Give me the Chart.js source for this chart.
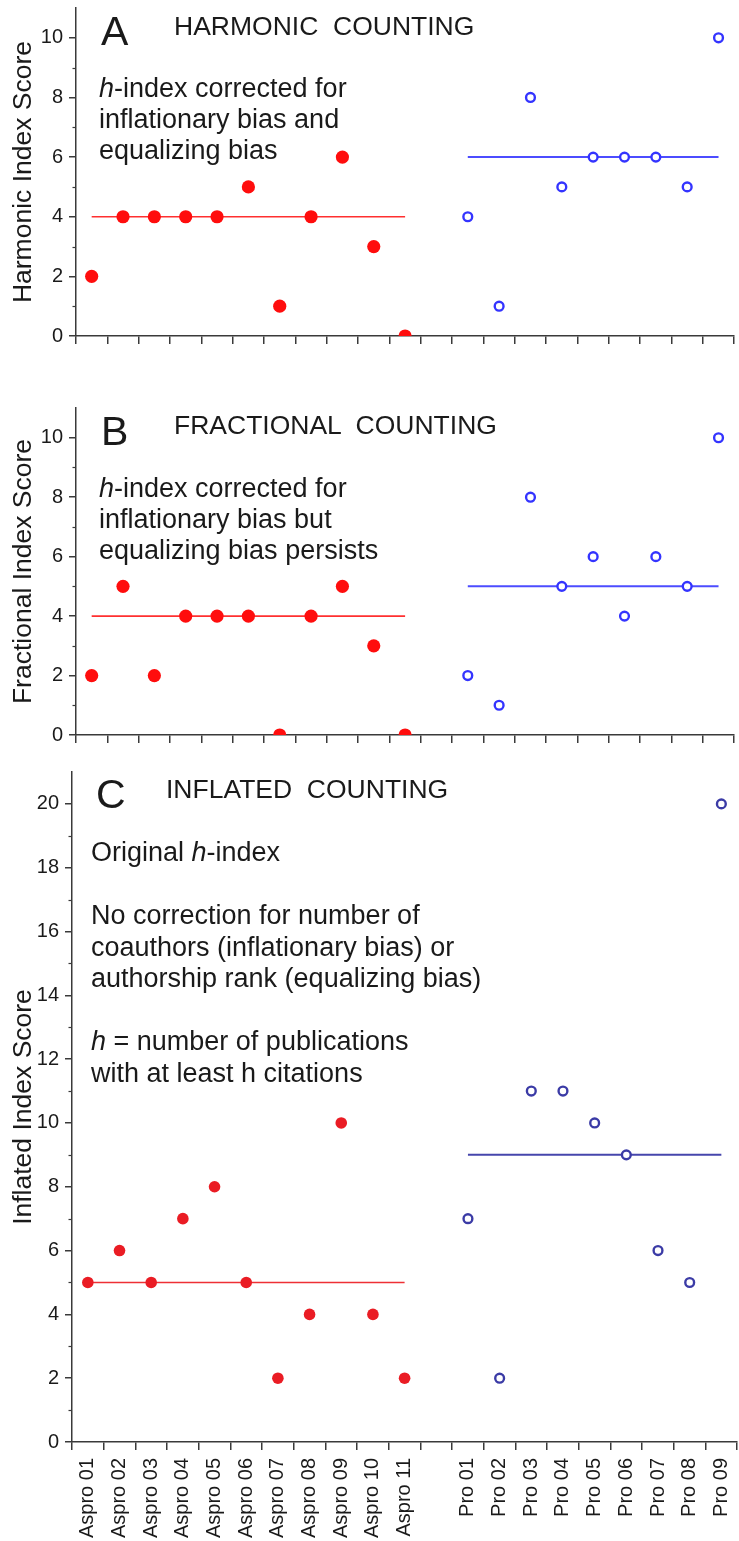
<!DOCTYPE html>
<html lang="en">
<head>
  <meta charset="UTF-8">
  <title>Harmonic, fractional and inflated counting</title>

  <!-- Chart.js for the three panels -->
  <script src="https://cdn.jsdelivr.net/npm/chart.js"></script>

  <style>
    html, body { margin: 0; padding: 0; background: #fff; }
    body {
      width: 739px; height: 1541px; overflow: hidden; position: relative;
      font-family: "Liberation Sans", Arial, sans-serif; color: #1a1a1a;
    }
    canvas { position: absolute; left: 0; }
    .txt { position: absolute; white-space: pre; pointer-events: none; }
    .letter { font-size: 41px; line-height: 48px; }
    .title { font-size: 26.5px; line-height: 31px; }
    .note { font-size: 27px; line-height: 31px; }
  </style>
</head>

<body>

  <!-- Panel A -->
  <canvas id="chartA" width="741" height="350" style="top:0px"></canvas>
  <div class="txt letter" style="left:101px; top:7px">A</div>
  <div class="txt title" style="left:174px; top:11px">HARMONIC  COUNTING</div>
  <div class="txt note" style="left:99px; top:73px"><i>h</i>-index corrected for
inflationary bias and
equalizing bias</div>

  <!-- Panel B -->
  <canvas id="chartB" width="741" height="360" style="top:390px"></canvas>
  <div class="txt letter" style="left:101px; top:407px">B</div>
  <div class="txt title" style="left:174px; top:410px">FRACTIONAL  COUNTING</div>
  <div class="txt note" style="left:99px; top:473px"><i>h</i>-index corrected for
inflationary bias but
equalizing bias persists</div>

  <!-- Panel C -->
  <canvas id="chartC" width="744" height="781" style="top:760px"></canvas>
  <div class="txt letter" style="left:96px; top:770px">C</div>
  <div class="txt title" style="left:166px; top:774px">INFLATED  COUNTING</div>
  <div class="txt note" style="left:91px; top:837px; line-height:31.5px">Original <i>h</i>-index

No correction for number of
coauthors (inflationary bias) or
authorship rank (equalizing bias)

<i>h</i> = number of publications
with at least h citations</div>

  <script>
    // categories: 11 Aspro, one empty slot, 9 Pro
    const asproNames = ['Aspro 01', 'Aspro 02', 'Aspro 03', 'Aspro 04', 'Aspro 05', 'Aspro 06',
                        'Aspro 07', 'Aspro 08', 'Aspro 09', 'Aspro 10', 'Aspro 11'];
    const proNames = ['Pro 01', 'Pro 02', 'Pro 03', 'Pro 04', 'Pro 05', 'Pro 06', 'Pro 07', 'Pro 08', 'Pro 09'];
    const categories = [...asproNames, '', ...proNames];

    // A - harmonic counting
    const harmonicAspro = [2, 4, 4, 4, 4, 5, 1, 4, 6, 3, 0];
    const harmonicPro = [4, 1, 8, 5, 6, 6, 6, 5, 10];
    const harmonicMedians = [4, 6];

    // B - fractional counting
    const fractionalAspro = [2, 5, 2, 4, 4, 4, 0, 4, 5, 3, 0];
    const fractionalPro = [2, 1, 8, 5, 6, 4, 6, 5, 10];
    const fractionalMedians = [4, 5];

    // C - inflated counting
    const inflatedAspro = [5, 6, 5, 7, 8, 5, 2, 4, 10, 4, 2];
    const inflatedPro = [7, 2, 11, 11, 10, 9, 6, 5, 20];
    const inflatedMedians = [5, 9];

    const axisColor = '#3a3a3a';
    const textColor = '#1a1a1a';

    Chart.defaults.font.family = '"Liberation Sans", Arial, sans-serif';

    // short ticks on the odd values of the y axis
    const minorTicks = {
      id: 'minorTicks',
      afterDraw(chart) {
        const y = chart.scales.y;
        const x0 = chart.chartArea.left;
        const ctx = chart.ctx;
        ctx.save();
        ctx.strokeStyle = axisColor;
        ctx.lineWidth = 1.2;
        for (let v = 1; v < y.max; v += 2) {
          const py = Math.round(y.getPixelForValue(v)) + 0.5;
          ctx.beginPath();
          ctx.moveTo(x0 - 3.5, py);
          ctx.lineTo(x0, py);
          ctx.stroke();
        }
        ctx.restore();
      }
    };

    function buildPanel(canvasId, o) {
      const pts = (names, vals) => vals.map((v, i) => ({ x: names[i], y: v }));
      const flat = (names, m) => [{ x: names[0], y: m }, { x: names[names.length - 1], y: m }];

      return new Chart(document.getElementById(canvasId), {
        type: 'line',
        data: {
          labels: categories,
          datasets: [
            {
              data: pts(asproNames, o.aspro), showLine: false, order: 0,
              pointRadius: o.redR, pointBorderWidth: 0, pointBackgroundColor: o.red
            },
            {
              data: pts(proNames, o.pro), showLine: false, order: 0,
              pointRadius: 4.4, pointBorderWidth: 2.4, pointBorderColor: o.blue, pointBackgroundColor: '#fff'
            },
            {
              data: flat(asproNames, o.medians[0]), order: 1,
              borderColor: o.redLine, borderWidth: 1.6, pointRadius: 0
            },
            {
              data: flat(proNames, o.medians[1]), order: 1,
              borderColor: o.blueLine, borderWidth: 2, pointRadius: 0
            }
          ]
        },
        options: {
          responsive: false,
          animation: false,
          events: [],
          layout: { padding: { top: o.padTop, left: 0, right: 0, bottom: 0 } },
          plugins: { legend: { display: false }, tooltip: { enabled: false } },
          scales: {
            x: {
              type: 'category',
              offset: true,
              grid: { offset: true, drawOnChartArea: false, tickLength: 8, color: axisColor, lineWidth: 1.5 },
              border: { color: axisColor, width: 1.5 },
              ticks: {
                display: o.showLabels, autoSkip: false, maxRotation: 90, minRotation: 90,
                padding: 8, color: textColor, font: { size: 20 }
              },
              afterFit: s => { s.height = o.xH; s.paddingLeft = 0; s.paddingRight = 0; }
            },
            y: {
              min: 0,
              max: o.yMax,
              ticks: { stepSize: 1, padding: 6, color: textColor, font: { size: 20 } },
              grid: { drawOnChartArea: false, tickLength: 7, color: axisColor, lineWidth: 1.5 },
              border: { color: axisColor, width: 1.5 },
              title: {
                display: true, text: o.yTitle, color: textColor,
                font: { size: 26.5 }, padding: { top: 8, bottom: 0 }
              },
              afterBuildTicks: s => { s.ticks = s.ticks.filter(t => t.value % 2 === 0); },
              afterFit: s => { s.width = o.yW; s.paddingTop = 0; s.paddingBottom = 0; }
            }
          }
        },
        plugins: [minorTicks]
      });
    }

    buildPanel('chartA', {
      aspro: harmonicAspro, pro: harmonicPro, medians: harmonicMedians,
      yMax: 11, yTitle: 'Harmonic Index Score', yW: 76, xH: 14, padTop: 8, showLabels: false,
      red: '#ff0d0d', redR: 6.6, redLine: '#ff3030', blue: '#3434ff', blueLine: '#4c4cff'
    });

    buildPanel('chartB', {
      aspro: fractionalAspro, pro: fractionalPro, medians: fractionalMedians,
      yMax: 11, yTitle: 'Fractional Index Score', yW: 76, xH: 15, padTop: 18, showLabels: false,
      red: '#ff0d0d', redR: 6.6, redLine: '#ff3030', blue: '#3434ff', blueLine: '#4c4cff'
    });

    buildPanel('chartC', {
      aspro: inflatedAspro, pro: inflatedPro, medians: inflatedMedians,
      yMax: 21, yTitle: 'Inflated Index Score', yW: 72, xH: 99, padTop: 12, showLabels: true,
      red: '#ea1c24', redR: 5.8, redLine: '#ee3035', blue: '#3b3ba6', blueLine: '#4646ac'
    });
  </script>

</body>
</html>
